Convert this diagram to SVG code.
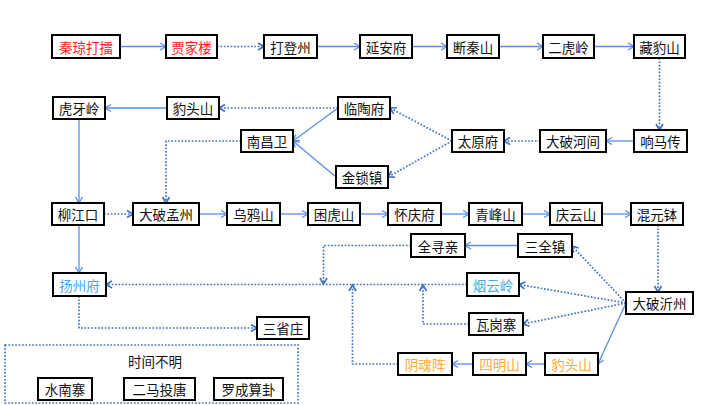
<svg xmlns="http://www.w3.org/2000/svg" width="720" height="405" viewBox="0 0 720 405">
<style>
.b rect{fill:#fff;stroke:#000;stroke-width:2}
text{font-family:"Noto Sans CJK SC","Liberation Sans",sans-serif;font-size:13.5px;text-anchor:middle;dominant-baseline:central;fill:#111}
.red text{fill:#ff1a1a}
.sky text{fill:#4aa8e8}
.org text{fill:#ffa93a}
.s{fill:none;stroke:#5a8ee6;stroke-width:1.3;marker-end:url(#as)}
.d{fill:none;stroke:#4472c4;stroke-width:1.7;stroke-dasharray:1.7 1.7;marker-end:url(#ad)}
.dn{fill:none;stroke:#4472c4;stroke-width:1.7;stroke-dasharray:1.7 1.7}
</style>
<defs>
<marker id="as" markerUnits="userSpaceOnUse" markerWidth="10" markerHeight="10" refX="7" refY="4" orient="auto" viewBox="0 0 10 8"><path d="M1,0.5 L7,4 L1,7.5" fill="none" stroke="#5a8ee6" stroke-width="1.3"/></marker>
<marker id="ad" markerUnits="userSpaceOnUse" markerWidth="10" markerHeight="10" refX="7" refY="4" orient="auto" viewBox="0 0 10 8"><path d="M1,0.5 L7,4 L1,7.5" fill="none" stroke="#4472c4" stroke-width="1.7"/></marker>
</defs>
<rect width="720" height="405" fill="#fff"/>
<g id="connectors">
<path class="s" d="M120,46.5 H166"/>
<path class="d" d="M217,46.5 H264"/>
<path class="s" d="M317,46.5 H360"/>
<path class="s" d="M412,46.5 H447"/>
<path class="s" d="M499,46.5 H543"/>
<path class="s" d="M594,46.5 H634"/>
<path class="d" d="M659.5,58 V130"/>
<path class="s" d="M634,141 H606"/>
<path class="d" d="M540,141 H504"/>
<path class="d" d="M452,141 L390,108"/>
<path class="d" d="M452,141 L388,177"/>
<path class="d" d="M338,108 H219"/>
<path class="s" d="M338,108 L293,141"/>
<path class="s" d="M336,177 L293,141"/>
<path class="s" d="M167,108 H105"/>
<path class="d" d="M241,141 H166 V203"/>
<path class="s" d="M79,119 V203"/>
<path class="d" d="M104,214 H133"/>
<path class="s" d="M79,225 V273"/>
<path class="s" d="M199,214 H227"/>
<path class="s" d="M280,214 H308"/>
<path class="s" d="M360,214 H388"/>
<path class="s" d="M441,214 H469"/>
<path class="s" d="M522,214 H550"/>
<path class="s" d="M602,214 H631"/>
<path class="d" d="M658,225 V292"/>
<path class="d" d="M626,303 L572,246"/>
<path class="s" d="M518,245.5 H465"/>
<path class="d" d="M411,245.5 H323.5 V284"/>
<path class="d" d="M467,284.5 H106"/>
<path class="d" d="M626,303 L519,284.5"/>
<path class="d" d="M626,303 L523,324"/>
<path class="d" d="M469,324 H423 V285"/>
<path class="s" d="M626,303 L598,364"/>
<path class="s" d="M545,364 H526"/>
<path class="s" d="M473,364 H452"/>
<path class="d" d="M398,364 H352.5 V285"/>
<path class="d" d="M79,296 V328 H257"/>
</g>
<g id="n1" class="b red"><rect x="52" y="35" width="68" height="23"/><text x="86" y="46.5">秦琼打擂</text></g>
<g id="n2" class="b red"><rect x="166" y="35" width="51" height="23"/><text x="191.5" y="46.5">贾家楼</text></g>
<g id="n3" class="b"><rect x="264" y="35" width="53" height="23"/><text x="290.5" y="46.5">打登州</text></g>
<g id="n4" class="b"><rect x="360" y="35" width="52" height="23"/><text x="386" y="46.5">延安府</text></g>
<g id="n5" class="b"><rect x="447" y="35" width="52" height="23"/><text x="473" y="46.5">断秦山</text></g>
<g id="n6" class="b"><rect x="543" y="35" width="51" height="23"/><text x="568.5" y="46.5">二虎岭</text></g>
<g id="n7" class="b"><rect x="634" y="35" width="51" height="23"/><text x="659.5" y="46.5">藏豹山</text></g>
<g id="n8" class="b"><rect x="53" y="97" width="52" height="22"/><text x="79" y="108">虎牙岭</text></g>
<g id="n9" class="b"><rect x="167" y="97" width="52" height="22"/><text x="193" y="108">豹头山</text></g>
<g id="n10" class="b"><rect x="338" y="97" width="52" height="22"/><text x="364" y="108">临陶府</text></g>
<g id="n11" class="b"><rect x="241" y="130" width="52" height="22"/><text x="267" y="141">南昌卫</text></g>
<g id="n12" class="b"><rect x="452" y="130" width="52" height="22"/><text x="478" y="141">太原府</text></g>
<g id="n13" class="b"><rect x="540" y="130" width="66" height="22"/><text x="573" y="141">大破河间</text></g>
<g id="n14" class="b"><rect x="634" y="130" width="53" height="22"/><text x="660.5" y="141">响马传</text></g>
<g id="n15" class="b"><rect x="336" y="166" width="52" height="22"/><text x="362" y="177">金锁镇</text></g>
<g id="n16" class="b"><rect x="52" y="203" width="52" height="22"/><text x="78" y="214">柳江口</text></g>
<g id="n17" class="b"><rect x="133" y="203" width="66" height="22"/><text x="166" y="214">大破孟州</text></g>
<g id="n18" class="b"><rect x="227" y="203" width="53" height="22"/><text x="253.5" y="214">乌鸦山</text></g>
<g id="n19" class="b"><rect x="308" y="203" width="52" height="22"/><text x="334" y="214">困虎山</text></g>
<g id="n20" class="b"><rect x="388" y="203" width="53" height="22"/><text x="414.5" y="214">怀庆府</text></g>
<g id="n21" class="b"><rect x="469" y="203" width="53" height="22"/><text x="495.5" y="214">青峰山</text></g>
<g id="n22" class="b"><rect x="550" y="203" width="52" height="22"/><text x="576" y="214">庆云山</text></g>
<g id="n23" class="b"><rect x="631" y="203" width="52" height="22"/><text x="657" y="214">混元钵</text></g>
<g id="n24" class="b"><rect x="411" y="234" width="54" height="23"/><text x="438" y="245.5">全寻亲</text></g>
<g id="n25" class="b"><rect x="518" y="234" width="54" height="23"/><text x="545" y="245.5">三全镇</text></g>
<g id="n26" class="b sky"><rect x="53" y="273" width="53" height="23"/><text x="79.5" y="284.5">扬州府</text></g>
<g id="n27" class="b sky"><rect x="467" y="273" width="52" height="23"/><text x="493" y="284.5">烟云岭</text></g>
<g id="n28" class="b"><rect x="626" y="292" width="67" height="22"/><text x="659.5" y="303">大破沂州</text></g>
<g id="n29" class="b"><rect x="469" y="313" width="54" height="22"/><text x="496" y="324">瓦岗寨</text></g>
<g id="n30" class="b"><rect x="257" y="317" width="52" height="22"/><text x="283" y="328">三省庄</text></g>
<g id="n31" class="b org"><rect x="545" y="353" width="53" height="22"/><text x="571.5" y="364">豹头山</text></g>
<g id="n32" class="b org"><rect x="473" y="353" width="53" height="22"/><text x="499.5" y="364">四明山</text></g>
<g id="n33" class="b org"><rect x="398" y="353" width="54" height="22"/><text x="425" y="364">阴魂阵</text></g>
<g id="legend">
<rect class="dn" x="5" y="345" width="293" height="58"/>
<text x="155" y="361">时间不明</text>
<g id="n34" class="b"><rect x="38" y="378" width="54" height="22"/><text x="65" y="389">水南寨</text></g>
<g id="n35" class="b"><rect x="124" y="378" width="71" height="22"/><text x="159.5" y="389">二马投唐</text></g>
<g id="n36" class="b"><rect x="214" y="378" width="69" height="22"/><text x="248.5" y="389">罗成算卦</text></g>
</g>
</svg>
